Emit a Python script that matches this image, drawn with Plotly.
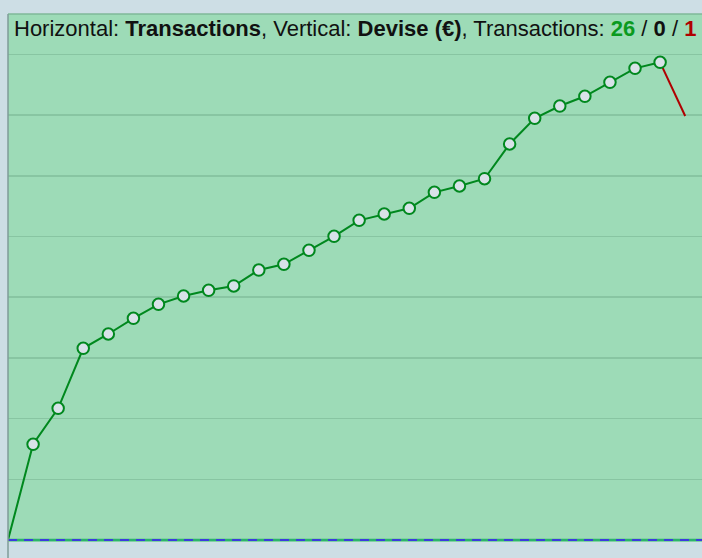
import plotly.graph_objects as go

# Cumulative balance (Devise €) after each transaction
transactions = list(range(0, 28))
balance = [0, 157.7, 217.0, 315.8, 339.4, 365.2, 388.3, 402.0, 411.4, 418.5,
           444.8, 454.2, 477.3, 500.3, 526.7, 537.1, 546.5, 572.8, 583.2, 595.2,
           652.4, 694.7, 715.0, 731.0, 754.0, 777.1, 787.0, 698.5]
wins, neutral, losses = 26, 0, 1

green_x = transactions[:27]
green_y = balance[:27]
red_x = transactions[26:28]
red_y = balance[26:28]

BG = "#cddee5"
PLOT = "#9ddbb7"
GRID = "#88c5a2"

fig = go.Figure()
fig.add_trace(go.Scatter(x=red_x, y=red_y, mode="lines",
                         line=dict(color="#b00000", width=2), hoverinfo="skip"))
fig.add_trace(go.Scatter(x=green_x, y=green_y, mode="lines",
                         line=dict(color="#00881e", width=2), hoverinfo="skip"))
fig.add_trace(go.Scatter(x=green_x[1:], y=green_y[1:], mode="markers",
                         marker=dict(size=11.5, color="#d8e2e8",
                                     line=dict(color="#00881e", width=2)),
                         hoverinfo="skip"))

title = ("Horizontal: <b>Transactions</b>, Vertical: <b>Devise (€)</b>, "
         f"Transactions: <b><span style='color:#0a9a1e'>{wins}</span></b> / "
         f"<b>{neutral}</b> / <b><span style='color:#b00000'>{losses}</span></b>")

fig.update_layout(
    width=702, height=558,
    margin=dict(l=8, r=0, t=14, b=16),
    paper_bgcolor=BG, plot_bgcolor=PLOT,
    showlegend=False,
    xaxis=dict(range=[0, 27.67], showgrid=False, zeroline=False,
               showticklabels=False, ticks=""),
    yaxis=dict(range=[-3.3, 866.6], dtick=100, showgrid=True, gridcolor=GRID,
               gridwidth=1.5, zeroline=False, showticklabels=False, ticks=""),
    annotations=[dict(text=title, xref="paper", yref="paper", x=0, y=1,
                      xanchor="left", yanchor="top", xshift=4, yshift=0,
                      showarrow=False, align="left",
                      font=dict(family="Liberation Sans, Arial", size=22,
                                color="#111111"))],
    shapes=[
        dict(type="line", xref="paper", yref="y", x0=0, x1=1, y0=0, y1=0,
             line=dict(color="#2cb36a", width=2.5), layer="above"),
        dict(type="line", xref="paper", yref="y", x0=0, x1=1, y0=0, y1=0,
             line=dict(color="#3b3bdd", width=1.8, dash="9px,7px"), layer="above"),
        dict(type="line", xref="paper", yref="paper", x0=0, x1=1, y0=1, y1=1,
             line=dict(color="#7fb898", width=1.5), layer="above"),
        dict(type="line", xref="paper", yref="paper", x0=0, x1=0, y0=-0.05, y1=1,
             line=dict(color="#7f9c98", width=1.5), layer="above"),
    ],
)

fig.write_html(
    "out.html",
    config={"displayModeBar": False, "staticPlot": True},
    post_script=("document.body.style.margin='0';"
                 "document.body.style.overflow='hidden';"
                 "document.body.style.background='" + BG + "';"),
)
